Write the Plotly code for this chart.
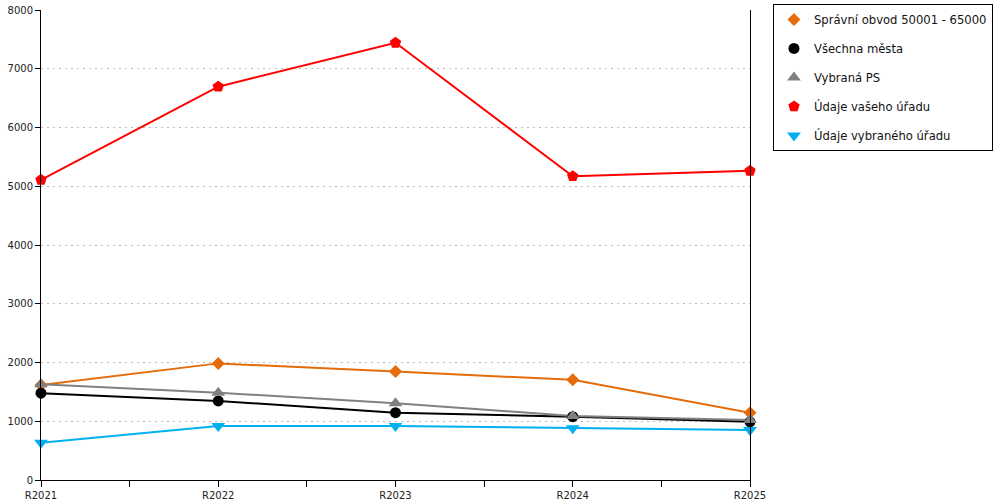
import plotly.graph_objects as go

years = ['R2021', 'R2022', 'R2023', 'R2024', 'R2025']

obvod = [1615, 1985, 1845, 1705, 1145]
vsechna_mesta = [1478, 1345, 1146, 1078, 990]
vybrana_ps = [1630, 1487, 1306, 1090, 1020]
vas_urad = [5110, 6695, 7442, 5170, 5262]
vybrany_urad = [635, 920, 920, 880, 850]

series = [
    ('Správní obvod 50001 - 65000', obvod, '#E46C0A', 'diamond', 10),
    ('Všechna města', vsechna_mesta, '#000000', 'circle', 11),
    ('Vybraná PS', vybrana_ps, '#808080', 'triangle-up', 12),
    ('Údaje vašeho úřadu', vas_urad, '#FF0000', 'pentagon', 12),
    ('Údaje vybraného úřadu', vybrany_urad, '#00B0F0', 'triangle-down', 12),
]

x = list(range(len(years)))

fig = go.Figure()

# lines without legend, markers carry the legend entry
for name, vals, color, symbol, size in series:
    fig.add_trace(go.Scatter(
        x=x, y=vals, mode='lines', line=dict(color=color, width=2),
        showlegend=False, hoverinfo='skip', cliponaxis=False))

for name, vals, color, symbol, size in series:
    fig.add_trace(go.Scatter(
        x=x, y=vals, mode='markers', name=name, legendgroup=name,
        marker=dict(color=color, symbol=symbol, size=size, line=dict(width=0)),
        cliponaxis=False))

fig.update_layout(
    width=1000, height=500,
    margin=dict(l=41, r=250, t=10, b=20, autoexpand=False),
    plot_bgcolor='white', paper_bgcolor='white',
    font=dict(family='DejaVu Sans', size=10, color='#222'),
    legend=dict(
        x=1.0324, y=1.013, xanchor='left', yanchor='top',
        bordercolor='black', borderwidth=1, bgcolor='white',
        font=dict(size=11.6, color='#111'),
        tracegroupgap=10, itemwidth=30,
    ),
)

fig.update_xaxes(
    range=[0, 4], tickvals=x, ticktext=years,
    showline=True, linecolor='black', linewidth=1,
    ticks='outside', ticklen=6, tickcolor='black',
    minor=dict(dtick=0.5, tick0=0, ticks='outside', ticklen=6, tickcolor='black'),
    showgrid=False, zeroline=False,
)

fig.update_yaxes(
    range=[0, 8000], dtick=1000,
    showline=True, linecolor='black', linewidth=1, mirror=True,
    ticks='outside', ticklen=5, tickcolor='black',
    showgrid=True, gridcolor='#BBBBBB', griddash='2px,4px', gridwidth=1,
    zeroline=False, ticklabeloverflow='allow',
)

# drop the default 8px body margin so the figure fills the window exactly
fig.write_html("out.html", config={'displayModeBar': False},
               post_script="document.body.style.margin='0';")
